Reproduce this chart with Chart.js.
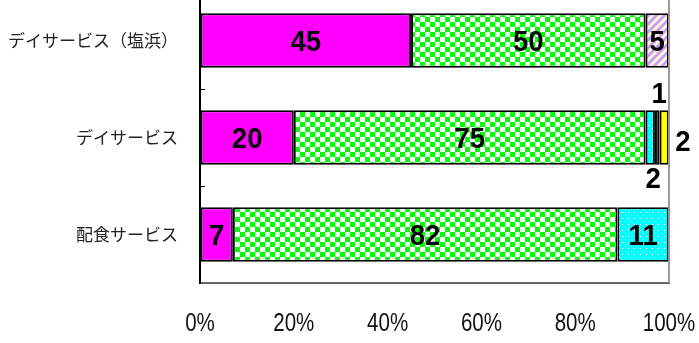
<!DOCTYPE html>
<html>
<head>
<meta charset="utf-8">
<script src="https://cdn.jsdelivr.net/npm/chart.js@4.4.0/dist/chart.umd.min.js"></script>
<style>
html, body { margin: 0; padding: 0; background: #fff; overflow: hidden; }
#wrap { position: absolute; left: 0; top: -8px; width: 699px; height: 351px; }
</style>
</head>
<body>
<div id="wrap"><canvas id="serviceChart"></canvas></div>
<script>
// Data (percent)
const categories = ['デイサービス（塩浜）', 'デイサービス', '配食サービス'];
const magentaValues = [45, 20, 7];
const greenValues = [50, 75, 82];
const cyanValues = [0, 2, 11];
const darkRedValues = [0, 1, 0];
const yellowValues = [0, 2, 0];
const lavenderValues = [5, 0, 0];
const xTicks = [0, 20, 40, 60, 80, 100];

// Fill patterns
function makePattern(w, h, draw) {
    const c = document.createElement('canvas');
    c.width = w;
    c.height = h;
    draw(c.getContext('2d'));
    return c.getContext('2d').createPattern(c, 'repeat');
}

const checkerFill = makePattern(10, 10, function(p) {
    p.fillStyle = '#fff';
    p.fillRect(0, 0, 10, 10);
    p.fillStyle = '#00ff00';
    p.fillRect(0, 0, 5, 5);
    p.fillRect(5, 5, 5, 5);
});

const dotFill = makePattern(6, 6, function(p) {
    p.fillStyle = '#00ffff';
    p.fillRect(0, 0, 6, 6);
    p.fillStyle = '#fff';
    p.fillRect(1, 1, 1, 1);
    p.fillRect(4, 4, 1, 1);
});

const hatchFill = makePattern(8, 8, function(p) {
    p.fillStyle = '#ffffcc';
    p.fillRect(0, 0, 8, 8);
    p.strokeStyle = '#cc99ff';
    p.lineWidth = 3;
    p.beginPath();
    p.moveTo(-4, 4); p.lineTo(4, -4);
    p.moveTo(0, 8); p.lineTo(8, 0);
    p.moveTo(4, 12); p.lineTo(12, 4);
    p.stroke();
});

// draw text squeezed horizontally (narrow look of the original)
function narrowText(ctx, text, x, y, squeeze) {
    ctx.save();
    ctx.translate(x, y);
    ctx.scale(squeeze, 1);
    ctx.fillText(text, 0, 0);
    ctx.restore();
}

// Value labels; tiny segments get their label moved outside the bar
const valueLabels = {
    id: 'valueLabels',
    afterDatasetsDraw(chart) {
        const ctx = chart.ctx;
        ctx.save();
        ctx.font = "bold 30px 'Liberation Sans', Arial, sans-serif";
        ctx.fillStyle = '#000';
        ctx.textAlign = 'center';
        ctx.textBaseline = 'middle';
        chart.data.datasets.forEach(function(ds, di) {
            chart.getDatasetMeta(di).data.forEach(function(bar, i) {
                const v = ds.data[i];
                if (!v) return;
                const w = Math.abs(bar.x - bar.base);
                const half = bar.height / 2;
                let x = (bar.x + bar.base) / 2;
                let y = bar.y + 2;
                if (w < 20) {
                    if (ds.smallLabel === 'above') { y = bar.y - half - 16; x += 2; }
                    else if (ds.smallLabel === 'below') { y = bar.y + half + 15; x += 3; }
                    else if (ds.smallLabel === 'right') { x = bar.x + 14; y = bar.y + 5; }
                }
                narrowText(ctx, String(v), x, y, 0.92);
            });
        });
        ctx.restore();
    }
};

// Right frame line, inward ticks on the category axis, x tick labels
const frame = {
    id: 'frame',
    afterDraw(chart) {
        const ctx = chart.ctx;
        const area = chart.chartArea;
        const y = chart.scales.y;
        const x = chart.scales.x;
        ctx.save();
        ctx.strokeStyle = '#999';
        ctx.lineWidth = 2;
        ctx.beginPath();
        ctx.moveTo(area.right, 0);
        ctx.lineTo(area.right, area.bottom);
        ctx.stroke();
        ctx.strokeStyle = '#000';
        ctx.lineWidth = 1;
        for (let i = 0; i < categories.length - 1; i++) {
            const yy = Math.round((y.getPixelForTick(i) + y.getPixelForTick(i + 1)) / 2) + 0.5;
            ctx.beginPath();
            ctx.moveTo(area.left, yy);
            ctx.lineTo(area.left + 5, yy);
            ctx.stroke();
        }
        ctx.font = "25px 'Liberation Sans', Arial, sans-serif";
        ctx.fillStyle = '#111';
        ctx.textAlign = 'center';
        ctx.textBaseline = 'middle';
        xTicks.forEach(function(v) {
            narrowText(ctx, v + '%', x.getPixelForValue(v), area.bottom + 41, 0.82);
        });
        ctx.restore();
    }
};

document.addEventListener('DOMContentLoaded', function() {
    initChart();
});

function initChart() {
    const barStyle = {
        borderColor: '#000',
        borderWidth: 2,
        borderSkipped: false,
        categoryPercentage: 1,
        barPercentage: 0.56
    };
    new Chart(document.getElementById('serviceChart'), {
        type: 'bar',
        data: {
            labels: categories,
            datasets: [
                Object.assign({ data: magentaValues, backgroundColor: '#ff00ff' }, barStyle),
                Object.assign({ data: greenValues, backgroundColor: checkerFill }, barStyle),
                Object.assign({ data: cyanValues, backgroundColor: dotFill, smallLabel: 'below' }, barStyle),
                Object.assign({ data: darkRedValues, backgroundColor: '#800000', smallLabel: 'above' }, barStyle),
                Object.assign({ data: yellowValues, backgroundColor: '#ffff00', smallLabel: 'right' }, barStyle),
                Object.assign({ data: lavenderValues, backgroundColor: hatchFill }, barStyle)
            ]
        },
        options: {
            indexAxis: 'y',
            responsive: true,
            maintainAspectRatio: false,
            animation: false,
            layout: { padding: { left: 0, right: 30, top: 0, bottom: 0 } },
            plugins: {
                legend: { display: false },
                tooltip: { enabled: false }
            },
            scales: {
                x: {
                    stacked: true,
                    min: 0,
                    max: 100,
                    afterBuildTicks: function(s) {
                        s.ticks = xTicks.map(function(v) { return { value: v }; });
                    },
                    afterFit: function(s) {
                        s.height = 60;
                        s.paddingLeft = 0; s.paddingRight = 0;
                        s.paddingTop = 0; s.paddingBottom = 0;
                    },
                    grid: { drawOnChartArea: false, drawTicks: false },
                    border: { color: '#666', width: 2 },
                    ticks: {
                        padding: 27,
                        color: 'rgba(0,0,0,0)',
                        maxRotation: 0,
                        font: { size: 12 },
                        callback: function(v) { return v + '%'; }
                    }
                },
                y: {
                    stacked: true,
                    afterFit: function(s) {
                        s.width = 200;
                        s.paddingLeft = 0; s.paddingRight = 0;
                        s.paddingTop = 0; s.paddingBottom = 0;
                    },
                    grid: { drawOnChartArea: false, drawTicks: false },
                    border: { color: '#000', width: 2 },
                    ticks: {
                        padding: 22,
                        color: '#222',
                        font: { family: "'Noto Sans CJK JP', sans-serif", size: 17 }
                    }
                }
            }
        },
        plugins: [valueLabels, frame]
    });
}
</script>
</body>
</html>
